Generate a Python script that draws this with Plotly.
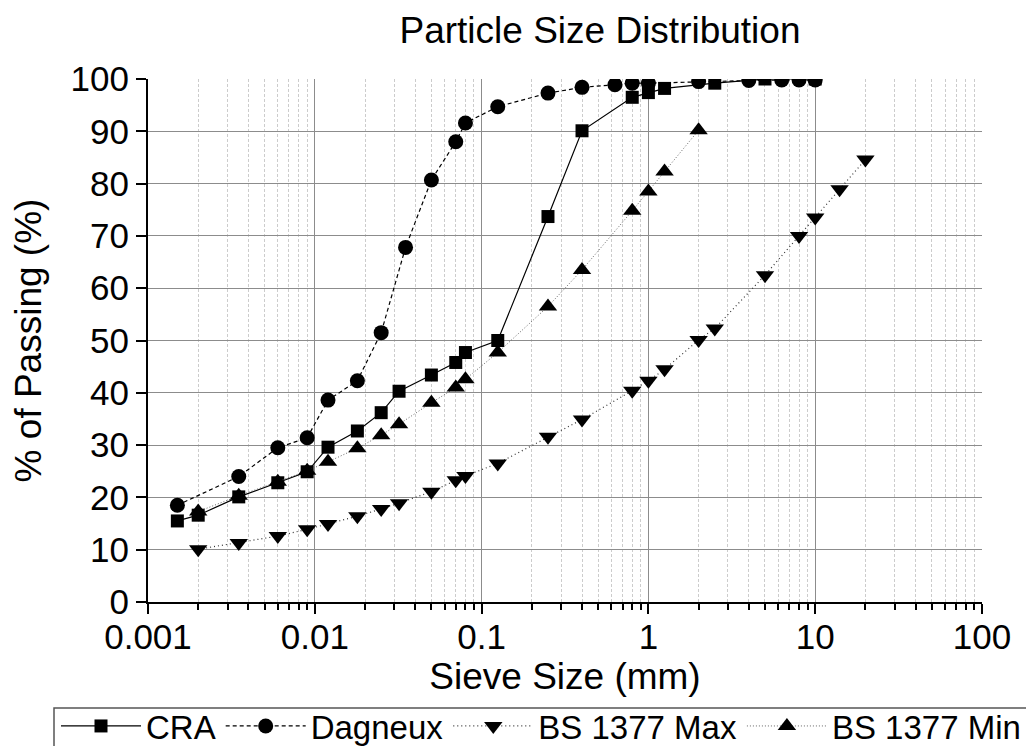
import plotly.graph_objects as go

FONT = "Liberation Sans, Arial, sans-serif"

cra_x = [0.0015, 0.002, 0.0035, 0.006, 0.009, 0.012, 0.018, 0.025, 0.032, 0.05, 0.07, 0.08,
         0.125, 0.25, 0.4, 0.8, 1.0, 1.25, 2.5, 5, 10]
cra_y = [15.5, 16.6, 20.1, 22.8, 24.9, 29.6, 32.7, 36.2, 40.3, 43.4, 45.8, 47.7,
         50.0, 73.7, 90.1, 96.5, 97.4, 98.2, 99.2, 100, 100]

dag_x = [0.0015, 0.0035, 0.006, 0.009, 0.012, 0.018, 0.025, 0.035, 0.05, 0.07, 0.08,
         0.125, 0.25, 0.4, 0.63, 0.8, 1, 2, 4, 6.3, 8, 10]
dag_y = [18.5, 24.0, 29.5, 31.4, 38.6, 42.3, 51.5, 67.8, 80.7, 88.0, 91.6,
         94.7, 97.3, 98.4, 98.9, 99.2, 99.2, 99.5, 99.7, 99.8, 99.8, 99.8]

max_x = [0.002, 0.0035, 0.006, 0.009, 0.012, 0.018, 0.025, 0.032, 0.05, 0.07, 0.08, 0.125,
         0.25, 0.4, 0.8, 1, 1.25, 2, 2.5, 5, 8, 10, 14, 20]
max_y = [10.1, 11.3, 12.6, 13.9, 14.9, 16.4, 17.8, 18.9, 21.1, 23.3, 24.1, 26.5,
         31.6, 34.9, 40.4, 42.3, 44.5, 50.1, 52.3, 62.5, 70.0, 73.5, 78.9, 84.6]

min_x = [0.002, 0.0035, 0.006, 0.009, 0.012, 0.018, 0.025, 0.032, 0.05, 0.07, 0.08, 0.125,
         0.25, 0.4, 0.8, 1, 1.25, 2]
min_y = [17.3, 20.3, 23.0, 25.1, 26.8, 29.4, 31.9, 34.0, 38.1, 41.0, 42.6, 47.7,
         56.5, 63.5, 74.8, 78.5, 82.3, 90.2]

x_tickvals = [0.001, 0.01, 0.1, 1, 10, 100]
x_ticktext = ["0.001", "0.01", "0.1", "1", "10", "100"]
y_tickvals = [0, 10, 20, 30, 40, 50, 60, 70, 80, 90, 100]

minor_vals = [k * d for d in [0.001, 0.01, 0.1, 1, 10] for k in range(2, 10)]

fig = go.Figure()
fig.add_trace(go.Scatter(x=cra_x, y=cra_y, name="CRA", mode="lines+markers",
                         line=dict(color="black", width=1.2, dash="solid"),
                         marker=dict(symbol="square", size=13, color="black")))
fig.add_trace(go.Scatter(x=dag_x, y=dag_y, name="Dagneux", mode="lines+markers",
                         line=dict(color="black", width=1.2, dash="4px,3px"),
                         marker=dict(symbol="circle", size=15, color="black")))
fig.add_trace(go.Scatter(x=max_x, y=max_y, name="BS 1377 Max", mode="lines+markers",
                         line=dict(color="#333333", width=1.2, dash="1px,3px"),
                         marker=dict(symbol="triangle-down", size=16, color="black")))
fig.add_trace(go.Scatter(x=min_x, y=min_y, name="BS 1377 Min", mode="lines+markers",
                         line=dict(color="#666666", width=1.0, dash="1px,2px"),
                         marker=dict(symbol="triangle-up", size=16, color="black")))

# The page body has an 8px margin, so the figure is drawn from (8, 8)
W, H = 1026, 738
L, R, T, B = 140, 52, 71, 144
pw, ph = W - L - R, H - T - B


def px_to_paper_x(px):
    return (px - 8 - L) / pw


def px_to_paper_y(py):
    return (H - B - (py - 8)) / ph


fig.update_layout(
    width=W, height=H,
    paper_bgcolor="white", plot_bgcolor="white",
    font=dict(family=FONT, size=35, color="black"),
    margin=dict(l=L, r=R, t=T, b=B, autoexpand=False),
    title=dict(text="Particle Size Distribution", x=592 / W, xanchor="center",
               y=1 - 22 / H, yanchor="middle", font=dict(size=37)),
    showlegend=True,
    legend=dict(orientation="h", x=px_to_paper_x(56), xanchor="left",
                y=px_to_paper_y(698), yanchor="top",
                borderwidth=0, bgcolor="rgba(0,0,0,0)",
                font=dict(size=33), itemwidth=80, tracegroupgap=0),
    xaxis=dict(type="log", range=[-3, 2], tickvals=x_tickvals, ticktext=x_ticktext,
               showline=True, linecolor="black", linewidth=2,
               ticks="outside", ticklen=10, tickwidth=2, tickcolor="black",
               ticklabelstandoff=-7,
               showgrid=True, gridcolor="#8c8c8c", gridwidth=1,
               zeroline=False, tickfont=dict(size=35),
               minor=dict(tickvals=minor_vals, ticks="outside", ticklen=6, tickwidth=2,
                          tickcolor="black", showgrid=True, gridcolor="#cccccc",
                          griddash="3px,2px", gridwidth=1),
               title=dict(text="Sieve Size (mm)", font=dict(size=37), standoff=0)),
    yaxis=dict(range=[0, 100], tickvals=y_tickvals,
               showline=True, linecolor="black", linewidth=2,
               ticks="outside", ticklen=10, tickwidth=2, tickcolor="black",
               showgrid=True, gridcolor="#8c8c8c", gridwidth=1,
               zeroline=False, tickfont=dict(size=35),
               title=dict(text="% of Passing (%)", font=dict(size=37), standoff=22)),
)

# legend frame
fig.add_shape(type="rect", xref="paper", yref="paper",
              x0=px_to_paper_x(54), x1=px_to_paper_x(1030),
              y0=px_to_paper_y(760), y1=px_to_paper_y(708),
              line=dict(color="#555555", width=1.5), fillcolor="rgba(0,0,0,0)",
              layer="below")

fig.write_html("out.html")
